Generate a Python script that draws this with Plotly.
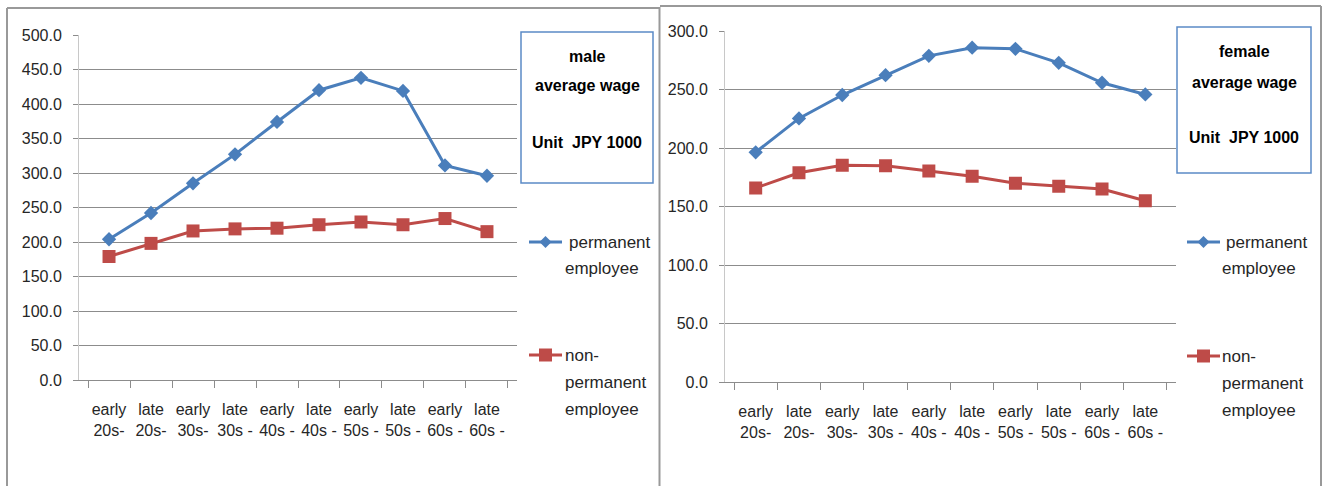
import plotly.graph_objects as go

categories = ["early<br>20s-", "late<br>20s-", "early<br>30s-", "late<br>30s -", "early<br>40s -",
              "late<br>40s -", "early<br>50s -", "late<br>50s -", "early<br>60s -", "late<br>60s -"]
male_permanent = [204, 242, 285, 327, 374, 420, 438, 419, 311, 296]
male_non_permanent = [179, 198, 216, 219, 220, 225, 229, 225, 234, 215]
female_permanent = [196.5, 225.5, 245.5, 262.5, 279, 286, 285, 273, 256, 246]
female_non_permanent = [166, 179, 185.5, 185, 180.5, 176, 170, 167.5, 165, 155]
male_ticks = [0, 50, 100, 150, 200, 250, 300, 350, 400, 450, 500]
female_ticks = [0, 50, 100, 150, 200, 250, 300]

W, H = 1325, 486
BLUE = "#4a7ebb"
RED = "#be4b48"
GRID = "#8c8c8c"
FONT = "Liberation Sans, Arial, sans-serif"
TXT = "#262626"


def px(x):
    return x / W


def py(y):
    return 1 - y / H


fig = go.Figure()

fig.add_trace(go.Scatter(x=categories, y=male_permanent, mode="lines+markers", xaxis="x", yaxis="y",
                         line=dict(color=BLUE, width=3), marker=dict(symbol="diamond", size=11, color=BLUE),
                         showlegend=False))
fig.add_trace(go.Scatter(x=categories, y=male_non_permanent, mode="lines+markers", xaxis="x", yaxis="y",
                         line=dict(color=RED, width=3), marker=dict(symbol="square", size=13, color=RED),
                         showlegend=False))
fig.add_trace(go.Scatter(x=categories, y=female_permanent, mode="lines+markers", xaxis="x2", yaxis="y2",
                         line=dict(color=BLUE, width=3), marker=dict(symbol="diamond", size=11, color=BLUE),
                         showlegend=False))
fig.add_trace(go.Scatter(x=categories, y=female_non_permanent, mode="lines+markers", xaxis="x2", yaxis="y2",
                         line=dict(color=RED, width=3), marker=dict(symbol="square", size=13, color=RED),
                         showlegend=False))

xcommon = dict(type="category", tickson="boundaries", ticks="outside", ticklen=7, tickcolor=GRID,
               showline=True, linecolor=GRID, linewidth=1, showgrid=False, zeroline=False, tickangle=0,
               automargin=False, ticklabelstandoff=15,
               tickfont=dict(family=FONT, size=16, color=TXT), fixedrange=True)
ycommon = dict(ticks="outside", ticklen=5, tickcolor=GRID, showline=True, linecolor="#c8c8c8", linewidth=1,
               showgrid=True, gridcolor=GRID, gridwidth=1, zeroline=False, tickformat=".1f", automargin=False,
               ticklabelstandoff=8,
               tickfont=dict(family=FONT, size=16, color=TXT), fixedrange=True)

fig.update_layout(
    width=W, height=H, margin=dict(l=0, r=0, t=0, b=0),
    paper_bgcolor="white", plot_bgcolor="white",
    xaxis=dict(domain=[px(79), px(517)], anchor="y", **xcommon),
    yaxis=dict(domain=[py(380), py(35)], anchor="x", range=[0, 500], tickvals=male_ticks, **ycommon),
    xaxis2=dict(domain=[px(725), px(1176)], anchor="y2", **xcommon),
    yaxis2=dict(domain=[py(382), py(31.3)], anchor="x2", range=[0, 300], tickvals=female_ticks, **ycommon),
)

shapes = []
# panel borders
shapes.append(dict(type="line", xref="paper", yref="paper", x0=px(7), x1=px(659), y0=py(8), y1=py(8),
                   line=dict(color="#999999", width=2)))
shapes.append(dict(type="line", xref="paper", yref="paper", x0=px(7), x1=px(7), y0=py(8), y1=0,
                   line=dict(color="#999999", width=2)))
shapes.append(dict(type="line", xref="paper", yref="paper", x0=px(659.5), x1=px(659.5), y0=py(7), y1=0,
                   line=dict(color="#999999", width=2)))
shapes.append(dict(type="line", xref="paper", yref="paper", x0=px(660), x1=px(1321), y0=py(6), y1=py(6),
                   line=dict(color="#999999", width=2)))
shapes.append(dict(type="line", xref="paper", yref="paper", x0=px(1321), x1=px(1321), y0=py(6), y1=0,
                   line=dict(color="#999999", width=2)))
# title boxes
shapes.append(dict(type="rect", xref="paper", yref="paper", x0=px(521), x1=px(653), y0=py(32), y1=py(183),
                   line=dict(color="#5b8ac6", width=1.5)))
shapes.append(dict(type="rect", xref="paper", yref="paper", x0=px(1177), x1=px(1311), y0=py(27), y1=py(173),
                   line=dict(color="#5b8ac6", width=1.5)))


def diamond(cx, cy, r):
    return dict(type="path", xref="paper", yref="paper",
                path=f"M {px(cx - r)} {py(cy)} L {px(cx)} {py(cy - r)} L {px(cx + r)} {py(cy)} L {px(cx)} {py(cy + r)} Z",
                fillcolor=BLUE, line=dict(width=0))


def square(cx, cy, r):
    return dict(type="rect", xref="paper", yref="paper", x0=px(cx - r), x1=px(cx + r), y0=py(cy - r), y1=py(cy + r),
                fillcolor=RED, line=dict(width=0))


annotations = []


def label(x, y, text, size=17, anchor="left", bold=False, color=TXT):
    annotations.append(dict(xref="paper", yref="paper", x=px(x), y=py(y), xanchor=anchor, yanchor="middle",
                            text=f"<b>{text}</b>" if bold else text, showarrow=False,
                            font=dict(family=FONT, size=size, color=color)))


for (lx0, lx1, yb, yr, tb, tr) in [(529, 562, 242, 355, 567, 563), (1187, 1220, 242, 356, 1224, 1220)]:
    shapes.append(dict(type="line", xref="paper", yref="paper", x0=px(lx0), x1=px(lx1), y0=py(yb), y1=py(yb),
                       line=dict(color=BLUE, width=3)))
    shapes.append(diamond((lx0 + lx1) / 2, yb, 6))
    shapes.append(dict(type="line", xref="paper", yref="paper", x0=px(lx0), x1=px(lx1), y0=py(yr), y1=py(yr),
                       line=dict(color=RED, width=3)))
    shapes.append(square((lx0 + lx1) / 2, yr, 6.5))
    label(tb, yb, "permanent")
    label(tr, yb + 26, "employee")
    label(tr, yr, "non-")
    label(tr, yr + 27, "permanent")
    label(tr, yr + 54, "employee")

for (cx, ys, word) in [(587, (56, 85, 142), "male"), (1244, (52, 82, 138), "female")]:
    label(cx, ys[0], word, size=16, anchor="center", bold=True, color="#000000")
    label(cx, ys[1], "average wage", size=16, anchor="center", bold=True, color="#000000")
    label(cx, ys[2], "Unit  JPY 1000", size=16, anchor="center", bold=True, color="#000000")

fig.update_layout(shapes=shapes, annotations=annotations)
fig.write_html("out.html", config={"displayModeBar": False},
               post_script="document.body.style.margin='0';document.body.style.padding='0';")
